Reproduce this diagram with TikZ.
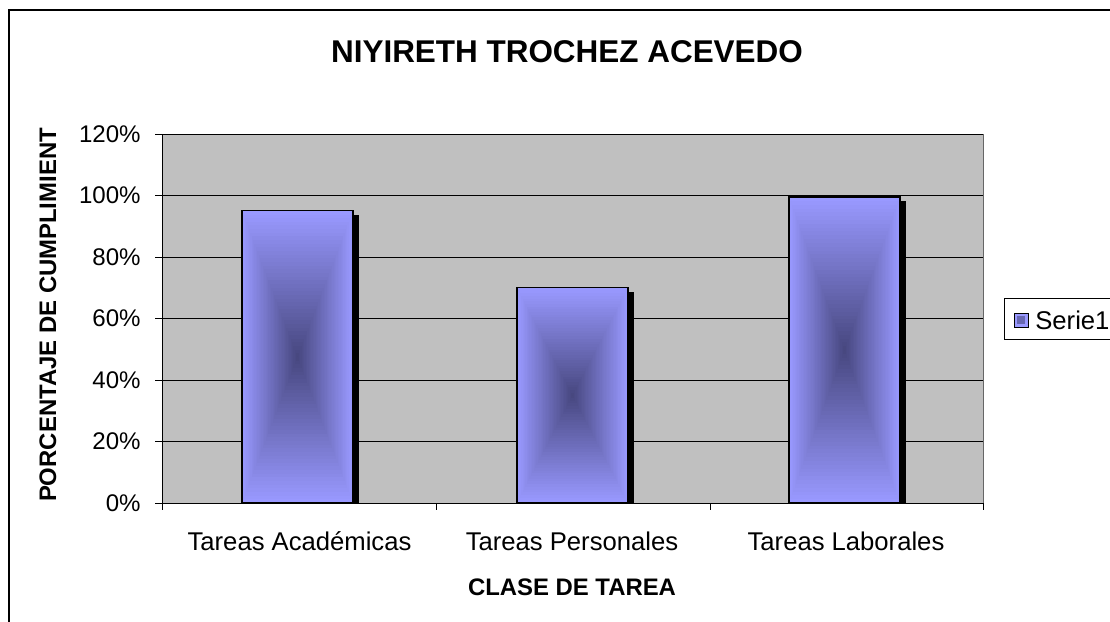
\documentclass[tikz,border=0pt]{standalone}
\usepackage{fontspec}
\setmainfont{Liberation Sans}
\definecolor{plotgray}{RGB}{192,192,192}
\definecolor{barlight}{RGB}{153,153,255}
\definecolor{bardark}{RGB}{70,70,125}
\begin{document}
\begin{tikzpicture}[x=0.02cm,y=-0.02cm,
  ticklabel/.style={anchor=east, inner sep=0pt, font=\fontsize{13.7}{15}\selectfont},
  catlabel/.style={inner sep=0pt, font=\fontsize{14.6}{16}\selectfont},
  axistitle/.style={inner sep=0pt, font=\fontsize{13.6}{15}\selectfont\bfseries}]
\useasboundingbox (0,0) rectangle (1110,622);
\fill[white] (0,0) rectangle (1110,622);
% chart frame
\draw[line width=1.1pt] (9,640) -- (9,10) -- (1140,10);
% plot area
\fill[plotgray] (162,134) rectangle (983,503);
\draw[gray!80!black] (983,134) -- (983,503);
\foreach \p in {0,20,...,120} {
  \draw (155,{503-\p*3.075}) -- (983,{503-\p*3.075});
  \node[ticklabel] (tick\p) at (141,{503-\p*3.075}) {\p\%};
}
\draw (162,134) -- (162,503);
\foreach \x in {162,436,710,983}
  \draw (\x,503) -- (\x,510);
% bars
\foreach \l/\v in {242/95, 517/70, 789/99.5} {
  \pgfmathsetmacro\top{503-\v*3.075}
  \pgfmathsetmacro\cy{(\top+503)/2}
  \pgfmathsetmacro\hh{(503-\top)/2}
  \fill[black] (\l+10,\top+4) rectangle (\l+117,503);
  \foreach \k in {0,...,40} {
    \pgfmathsetmacro\s{1-\k/40}
    \pgfmathsetmacro\pc{\k*100/40}
    \fill[bardark!\pc!barlight] ({\l+55.5-55.5*\s},{\cy-\hh*\s}) rectangle ({\l+55.5+55.5*\s},{\cy+\hh*\s});
  }
  \draw[line width=0.7pt] (\l,\top) rectangle (\l+111,503);
}
% labels
\node[catlabel] (acad) at (299.5,541) {Tareas Académicas};
\node[catlabel] (pers) at (572,541) {Tareas Personales};
\node[catlabel] (labo) at (846,541) {Tareas Laborales};
\node[inner sep=0pt, font=\fontsize{17.9}{20}\selectfont\bfseries] (title) at (567,52) {NIYIRETH TROCHEZ ACEVEDO};
\node[axistitle] (xtitle) at (572,587) {CLASE DE TAREA};
\node[axistitle, rotate=90] (ytitle) at (48,315) {PORCENTAJE DE CUMPLIMIENT};
% legend
\draw (1004,298) rectangle (1140,339);
\fill[barlight] (1014,313) rectangle (1028,327);
\fill[bardark!60!barlight] (1017,316) rectangle (1025,324);
\draw (1014,313) rectangle (1028,327);
\node[catlabel, anchor=west] (serie) at (1035,320) {Serie1};
\end{tikzpicture}
\end{document}
